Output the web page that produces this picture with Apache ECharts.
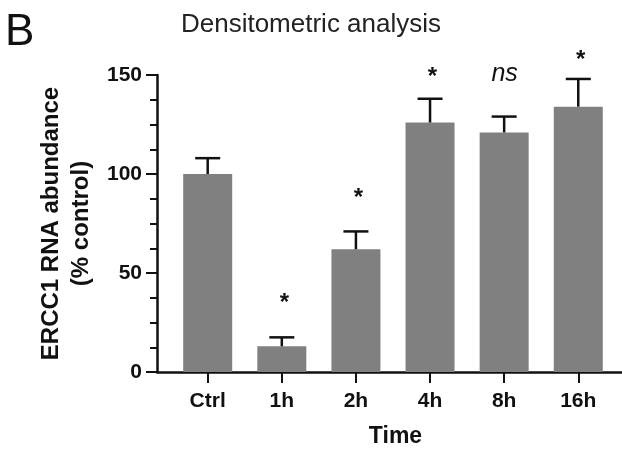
<!DOCTYPE html>
<html>
<head>
<meta charset="utf-8">
<script src="https://cdn.jsdelivr.net/npm/echarts@6/dist/echarts.min.js"></script>
<style>
  html, body { margin: 0; padding: 0; background: #fff; }
  #chart { width: 622px; height: 453px; }
</style>
</head>
<body>
<div id="chart"></div>
<script>
// data
const categories = ['Ctrl', '1h', '2h', '4h', '8h', '16h']
const means = [100, 13, 62, 126, 121, 134]
const errors = [8, 4.5, 9, 12, 8, 14]
const marks = ['', '*', '*', '*', 'ns', '*']
const markLevels = [null, 37.4, 90.4, 151.7, 149.6, 160]

const FONT = '"Liberation Sans", Arial, Helvetica, sans-serif'
const catIndex = categories.map((_, i) => i)

const chart = echarts.init(document.getElementById('chart'))

const annotIdx = catIndex.filter((i) => marks[i] !== '')

chart.setOption({
  animation: false,
  backgroundColor: '#fff',
  title: [
    {
      text: 'B',
      left: 5,
      top: 11,
      padding: 0,
      textStyle: { fontFamily: FONT, fontSize: 44, fontWeight: 'normal', color: '#111' }
    },
    {
      text: 'Densitometric analysis',
      left: 'center',
      top: 12,
      padding: 0,
      textStyle: { fontFamily: FONT, fontSize: 26, fontWeight: 'normal', color: '#222' }
    }
  ],
  grid: { left: 157, right: 0, top: 75, bottom: 81 },
  xAxis: {
    type: 'value',
    min: -0.684,
    max: 5.59,
    name: 'Time',
    nameLocation: 'middle',
    nameGap: 53,
    nameTextStyle: { fontFamily: FONT, fontSize: 23, fontWeight: 'bold', color: '#111', padding: [0, 0, 0, 12] },
    splitLine: { show: false },
    axisLine: { show: true, onZero: false, lineStyle: { color: '#111', width: 2.5 } },
    axisTick: { show: true, length: 11, customValues: catIndex, lineStyle: { color: '#111', width: 2 } },
    axisLabel: {
      customValues: catIndex,
      margin: 19,
      fontFamily: FONT,
      fontSize: 21,
      fontWeight: 'bold',
      color: '#111',
      formatter: (v) => categories[Math.round(v)] ?? ''
    }
  },
  yAxis: {
    type: 'value',
    min: 0,
    max: 150,
    interval: 50,
    name: 'ERCC1 RNA abundance\n(% control)',
    nameLocation: 'middle',
    nameRotate: 90,
    nameGap: 60,
    nameTextStyle: { fontFamily: FONT, fontSize: 24, fontWeight: 'bold', color: '#111', lineHeight: 30 },
    splitLine: { show: false },
    axisLine: { show: true, onZero: false, lineStyle: { color: '#111', width: 2.5 } },
    axisTick: { show: true, length: 11, lineStyle: { color: '#111', width: 2 } },
    minorTick: { show: true, splitNumber: 4, length: 7, lineStyle: { color: '#111', width: 2 } },
    axisLabel: { margin: 15, fontFamily: FONT, fontSize: 21, fontWeight: 'bold', color: '#111' }
  },
  series: [
    {
      type: 'bar',
      data: means.map((m, i) => [i, m]),
      barWidth: 49,
      itemStyle: { color: '#808080' },
      z: 2
    },
    {
      // upper error bars
      type: 'custom',
      data: means.map((m, i) => [i, m, errors[i]]),
      encode: { x: 0, y: 1 },
      z: 3,
      renderItem: (params, api) => {
        const x = api.value(0)
        const m = api.value(1)
        const e = api.value(2)
        const p0 = api.coord([x, m])
        const p1 = api.coord([x, m + e])
        const half = 12.5
        const style = { stroke: '#111', lineWidth: 2.5 }
        return {
          type: 'group',
          children: [
            { type: 'line', shape: { x1: p0[0], y1: p0[1], x2: p1[0], y2: p1[1] }, style },
            { type: 'line', shape: { x1: p1[0] - half, y1: p1[1], x2: p1[0] + half, y2: p1[1] }, style }
          ]
        }
      }
    },
    {
      // significance marks
      type: 'custom',
      data: annotIdx.map((i) => [i, markLevels[i]]),
      encode: { x: 0, y: 1 },
      z: 4,
      renderItem: (params, api) => {
        const label = marks[annotIdx[params.dataIndex]]
        const p = api.coord([api.value(0), api.value(1)])
        const isStar = label === '*'
        return {
          type: 'text',
          x: p[0] + (isStar ? 2.5 : 0.5),
          y: p[1] + (isStar ? 5.5 : -2),
          style: {
            text: label,
            fill: '#111',
            align: 'center',
            verticalAlign: 'middle',
            fontFamily: FONT,
            fontSize: isStar ? 24 : 25,
            fontWeight: isStar ? 'bold' : 'normal',
            fontStyle: isStar ? 'normal' : 'italic'
          }
        }
      }
    }
  ]
})
</script>
</body>
</html>
